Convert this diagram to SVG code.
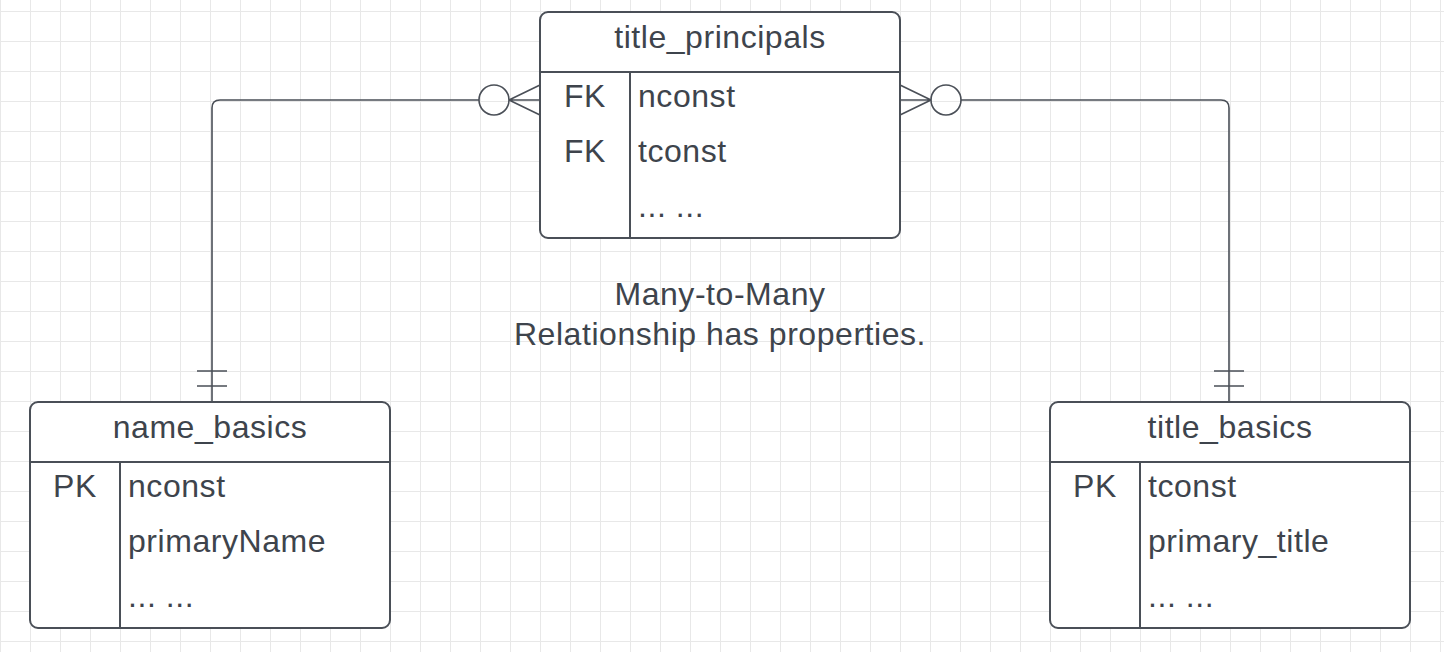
<svg xmlns="http://www.w3.org/2000/svg" width="1444" height="652" viewBox="0 0 1444 652">
  <defs>
    <pattern id="grid" x="0" y="11" width="30" height="30" patternUnits="userSpaceOnUse">
      <path d="M0.5 0V30M0 0.5H30" fill="none" stroke="#e8e8e8" stroke-width="1"/>
    </pattern>
  </defs>
  <style>
    .box { fill: #ffffff; stroke: #4a4f57; stroke-width: 2; }
    .ln { fill: none; stroke: #4a4f57; stroke-width: 2; }
    .cn { fill: none; stroke: #4a4f57; stroke-width: 1.6; }
    .t { font-family: "Liberation Sans", Arial, sans-serif; font-size: 32px; letter-spacing: 0.55px; fill: #3e444c; }
    .c { text-anchor: middle; }
  </style>
  <rect width="1444" height="652" fill="#ffffff"/>
  <rect width="1444" height="652" fill="url(#grid)"/>

  <g id="connectors">
    <path class="cn" d="M212 402V108Q212 100 220 100H479"/>
    <circle class="cn" cx="494" cy="100" r="15" fill="#ffffff"/>
    <path class="cn" d="M509 100L540 85M509 100H540M509 100L540 115"/>
    <path class="cn" d="M197 371H227M197 386H227"/>
    <path class="cn" d="M1229 402V108Q1229 100 1221 100H961"/>
    <circle class="cn" cx="946" cy="100" r="15" fill="#ffffff"/>
    <path class="cn" d="M931 100L900 85M931 100H900M931 100L900 115"/>
    <path class="cn" d="M1214 371H1244M1214 386H1244"/>
  </g>

  <g id="title_principals">
    <rect class="box" x="540" y="12" width="360" height="226" rx="8"/>
    <path class="ln" d="M540 72H900M630 72V238"/>
    <text class="t c" x="720" y="48">title_principals</text>
    <text class="t c" x="585" y="107">FK</text>
    <text class="t" x="638" y="107">nconst</text>
    <text class="t c" x="585" y="162">FK</text>
    <text class="t" x="638" y="162">tconst</text>
    <text class="t" x="638" y="217">... ...</text>
  </g>

  <g id="name_basics">
    <rect class="box" x="30" y="402" width="360" height="226" rx="8"/>
    <path class="ln" d="M30 462H390M120 462V628"/>
    <text class="t c" x="210" y="438">name_basics</text>
    <text class="t c" x="75" y="497">PK</text>
    <text class="t" x="128" y="497">nconst</text>
    <text class="t" x="128" y="552">primaryName</text>
    <text class="t" x="128" y="607">... ...</text>
  </g>

  <g id="title_basics">
    <rect class="box" x="1050" y="402" width="360" height="226" rx="8"/>
    <path class="ln" d="M1050 462H1410M1140 462V628"/>
    <text class="t c" x="1230" y="438">title_basics</text>
    <text class="t c" x="1095" y="497">PK</text>
    <text class="t" x="1148" y="497">tconst</text>
    <text class="t" x="1148" y="552">primary_title</text>
    <text class="t" x="1148" y="607">... ...</text>
  </g>

  <g id="label">
    <text class="t c" x="720" y="305">Many-to-Many</text>
    <text class="t c" x="720" y="345">Relationship has properties.</text>
  </g>
</svg>
